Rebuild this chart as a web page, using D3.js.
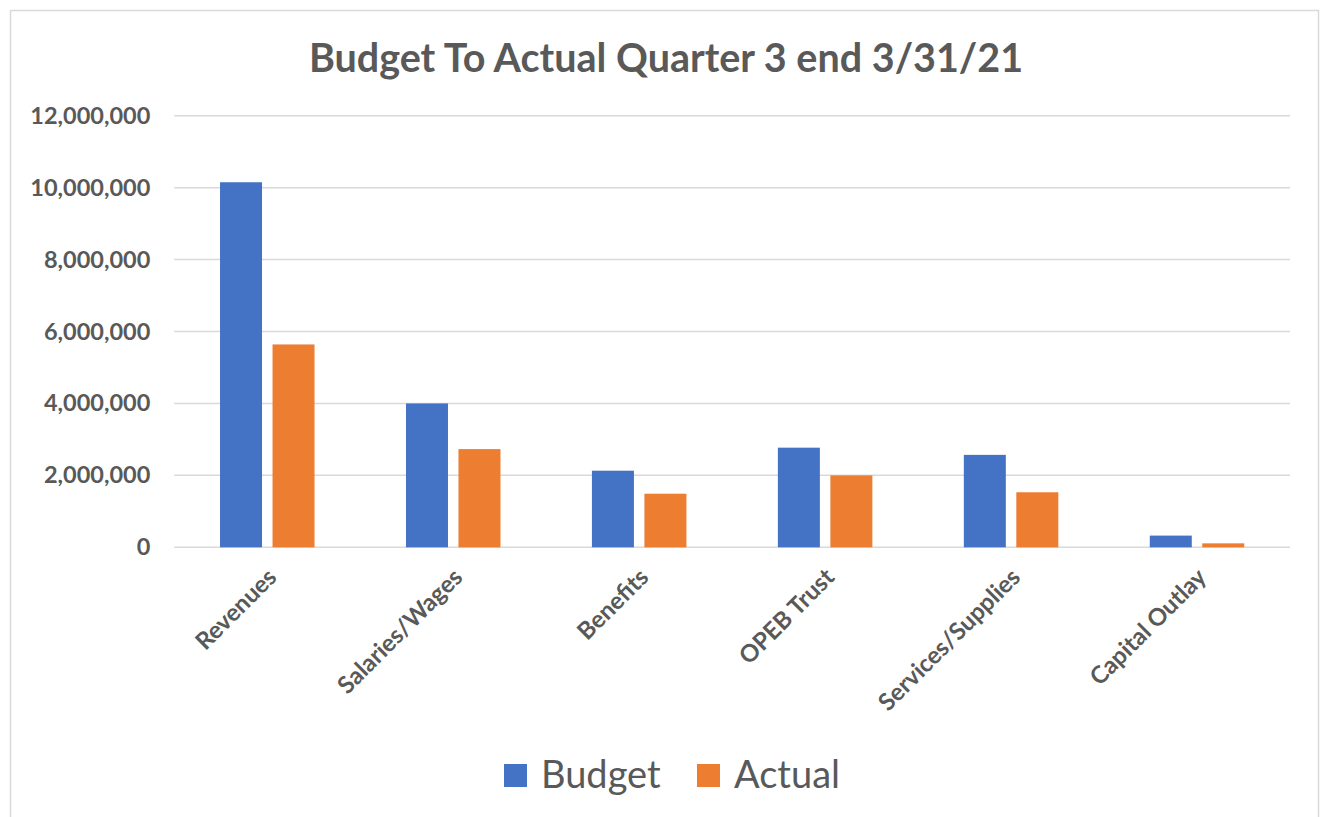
<!DOCTYPE html>
<html>
<head>
<meta charset="utf-8">
<script src="https://cdn.jsdelivr.net/npm/d3@7"></script>
<style>
  body { margin: 0; background: #fff; }
  svg { display: block; }
</style>
</head>
<body>
<div id="chart"></div>
<script>
// chart values
const categories = ["Revenues", "Salaries/Wages", "Benefits", "OPEB Trust", "Services/Supplies", "Capital Outlay"];
const seriesNames = ["Budget", "Actual"];
const budget = [10150000, 4000000, 2130000, 2770000, 2570000, 325000];
const actual = [5640000, 2730000, 1490000, 2000000, 1530000, 110000];
const yTicks = [0, 2000000, 4000000, 6000000, 8000000, 10000000, 12000000];
const colors = ["#4472C4", "#ED7D31"];

const width = 1322, height = 817;
const textColor = "#595959";
const font = "Lato, 'Open Sans', sans-serif";

const svg = d3.select("#chart").append("svg")
    .attr("width", width)
    .attr("height", height);

// outer frame
svg.append("rect")
    .attr("x", 10.5).attr("y", 10.5)
    .attr("width", 1308).attr("height", 830)
    .attr("fill", "#fff")
    .attr("stroke", "#d9d9d9").attr("stroke-width", 1.5);

// title
svg.append("text")
    .attr("x", 666).attr("y", 72)
    .attr("text-anchor", "middle")
    .style("font-family", font)
    .style("font-weight", "bold")
    .style("font-size", "39.5px")
    .style("fill", textColor)
    .text("Budget To Actual Quarter 3 end 3/31/21");

// scales
const x0 = d3.scaleBand().domain(categories).range([174.3, 1290]);
const x1 = d3.scaleBand().domain(seriesNames).range([0, x0.bandwidth()])
    .paddingInner(0.2).paddingOuter(0.871);
const y = d3.scaleLinear().domain([0, 12000000]).range([547.3, 115.7]);

// gridlines
svg.append("g")
    .selectAll("line")
    .data(yTicks)
    .join("line")
    .attr("x1", 174.3).attr("x2", 1290)
    .attr("y1", d => y(d)).attr("y2", d => y(d))
    .attr("stroke", "#d9d9d9").attr("stroke-width", 1.5);

// y axis labels
const yAxis = svg.append("g")
    .attr("transform", "translate(174.3,0)")
    .call(d3.axisLeft(y).tickValues(yTicks).tickSize(0).tickPadding(24).tickFormat(d3.format(",")));
yAxis.select(".domain").remove();
yAxis.selectAll("text")
    .style("font-family", font)
    .style("font-weight", "bold")
    .style("font-size", "23.5px")
    .style("fill", textColor);

// bars
const rows = categories.map((c, i) => ({ cat: c, values: [budget[i], actual[i]] }));
const groups = svg.append("g")
    .selectAll("g")
    .data(rows)
    .join("g")
    .attr("transform", d => `translate(${x0(d.cat)},0)`);

groups.selectAll("rect")
    .data(d => d.values.map((v, j) => ({ name: seriesNames[j], value: v, color: colors[j] })))
    .join("rect")
    .attr("x", d => x1(d.name))
    .attr("width", x1.bandwidth())
    .attr("y", d => y(d.value))
    .attr("height", d => y(0) - y(d.value))
    .attr("fill", d => d.color);

// category labels, rotated
svg.append("g")
    .selectAll("text")
    .data(categories)
    .join("text")
    .attr("transform", d => `translate(${x0(d) + x0.bandwidth() / 2 - 2},566) rotate(-45)`)
    .attr("text-anchor", "end")
    .attr("dy", "0.75em")
    .style("font-family", font)
    .style("font-weight", "bold")
    .style("font-size", "24px")
    .style("fill", textColor)
    .text(d => d);

// legend
const legendX = [504, 697];
const legend = svg.append("g")
    .selectAll("g")
    .data(seriesNames)
    .join("g")
    .attr("transform", (d, i) => `translate(${legendX[i]},764)`);
legend.append("rect")
    .attr("width", 23).attr("height", 23)
    .attr("fill", (d, i) => colors[i]);
legend.append("text")
    .attr("x", 37).attr("y", 23.5)
    .style("font-family", font)
    .style("font-size", "38px")
    .style("fill", textColor)
    .text(d => d);
</script>
</body>
</html>
